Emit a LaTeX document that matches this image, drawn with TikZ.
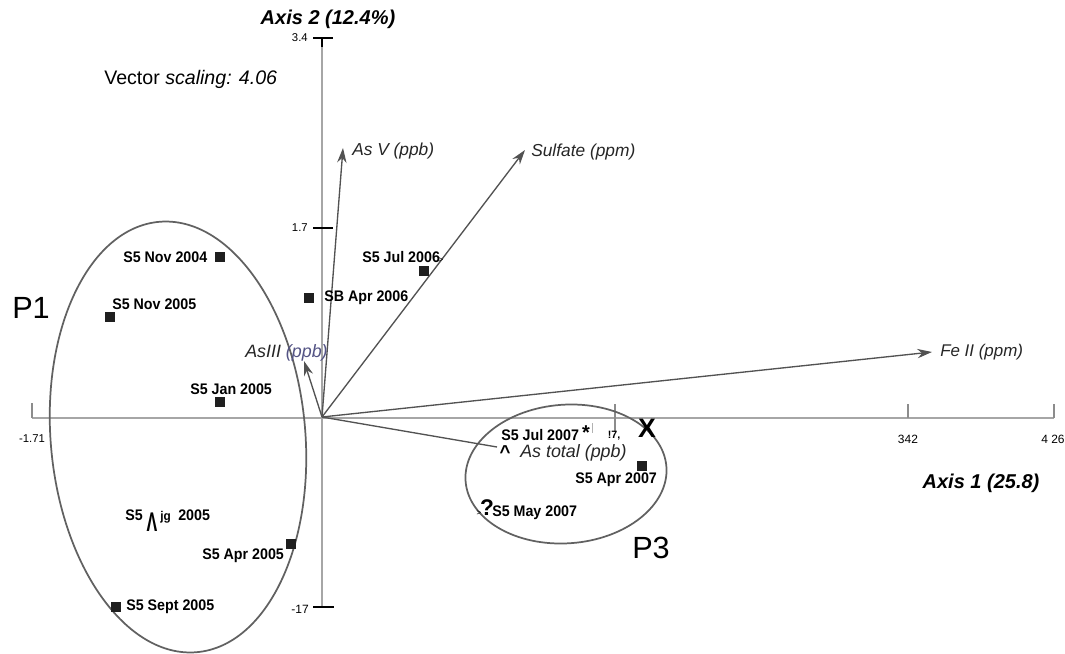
\documentclass[tikz,border=0pt]{standalone}
\usepackage{fontspec}
\setmainfont{Liberation Sans}
\newfontfamily\narrowsans[FakeStretch=0.93]{Liberation Sans}
\usepackage{graphicx}
\usetikzlibrary{arrows.meta}
\begin{document}
\begin{tikzpicture}[x=0.75pt,y=-0.75pt,
  axisline/.style={draw=black!35, line width=1.1pt},
  tickmark/.style={draw=black!45, line width=0.9pt},
  bartick/.style={draw=black, line width=1.1pt},
  vec/.style={draw=black!68, line width=1pt, -{Stealth[length=11pt,width=7pt]}},
  vecplain/.style={draw=black!68, line width=1pt},
  grp/.style={draw=black!62, line width=1.3pt},
  sample/.style={fill=black!88, minimum size=6.8pt, inner sep=0pt},
  lab/.style={font=\narrowsans\fontsize{11.5}{13}\selectfont\bfseries, anchor=west, inner sep=0pt},
  vlab/.style={font=\fontsize{13}{15}\selectfont\itshape, anchor=west, inner sep=0pt, text=black!85},
  ticklab/.style={font=\fontsize{8.5}{9}\selectfont, inner sep=0pt},
  grplab/.style={font=\fontsize{23}{26}\selectfont, anchor=west, inner sep=0pt},
  axtitle/.style={font=\fontsize{15}{17}\selectfont\bfseries\itshape, inner sep=0pt},
]
\useasboundingbox (0,0) rectangle (1065,654);
\fill[white] (0,0) rectangle (1065,654);

% ---------- axes ----------
\coordinate (ytop) at (322,38);
\coordinate (ybot) at (322,607);
\coordinate (xleft) at (32,418);
\coordinate (xright) at (1054,418);
\draw[axisline] (ytop) -- (ybot);
\draw[axisline] (xleft) -- (xright);

% vertical-axis ticks
\coordinate (t34a) at (313,38); \coordinate (t34b) at (333,38); \coordinate (t34c) at (322,47);
\draw[bartick] (t34a) -- (t34b);
\draw[bartick] (ytop) -- (t34c);
\coordinate (t17a) at (313,228); \coordinate (t17b) at (333,228);
\draw[bartick, line width=0.9pt] (t17a) -- (t17b);
\coordinate (tm17a) at (313,607); \coordinate (tm17b) at (334,607);
\draw[bartick, line width=2pt] (tm17a) -- (tm17b);
\node[ticklab, anchor=east] (l34) at (308,38) {3.4};
\node[ticklab, anchor=east] (l17) at (308,228) {1.7};
\node[ticklab, anchor=east, font=\fontsize{9}{10}\selectfont] (lm17) at (309,609) {-17};

% horizontal-axis ticks
\coordinate (hx1a) at (32,403);  \coordinate (hx1b) at (32,418);
\coordinate (hx2a) at (615,404); \coordinate (hx2b) at (615,432);
\coordinate (hx3a) at (908,404); \coordinate (hx3b) at (908,418);
\coordinate (hx4a) at (1054,404); \coordinate (hx4b) at (1054,418);
\draw[tickmark] (hx1a) -- (hx1b);
\draw[tickmark] (hx2a) -- (hx2b);
\draw[tickmark] (hx3a) -- (hx3b);
\draw[tickmark] (hx4a) -- (hx4b);
\node[ticklab, font=\fontsize{8.5}{9}\selectfont] (lm171) at (32,439) {-1.71};
\node[ticklab, font=\fontsize{9}{10}\selectfont] (l342) at (908,439) {342};
\node[ticklab, font=\fontsize{9}{10}\selectfont] (l426) at (1053,439) {4 26};
\node[ticklab, font=\fontsize{8}{9}\selectfont\bfseries] (l17x) at (614,436) {!7,};

% axis titles and note
\node[axtitle] (ax2) at (328,19) {Axis 2 (12.4\%)};
\node[axtitle] (ax1) at (981,483) {Axis 1 (25.8)};
\node[anchor=west, inner sep=0pt, font=\fontsize{14.7}{16}\selectfont] (vs) at (104,79) {Vector \textit{scaling: 4.06}};

% ---------- group ellipses ----------
\draw[grp, rotate around={5:(178,437)}] (178,437) ellipse [x radius=95.5pt, y radius=162pt];
\draw[grp, rotate around={4:(566,474)}] (566,474) ellipse [x radius=75.5pt, y radius=52pt];
\node[grplab] (P1) at (12,308) {P1};
\node[grplab] (P3) at (632,548) {P3};

% ---------- vectors ----------
\coordinate (O) at (322,417);
\coordinate (tAsV) at (343,148);
\coordinate (tSulf) at (525,150);
\coordinate (tFe) at (932,352);
\coordinate (tAsIII) at (304,361);
\coordinate (tAsTot) at (497,447);
\draw[vec] (O) -- (tAsV);
\draw[vec] (O) -- (tSulf);
\draw[vec] (O) -- (tFe);
\draw[vec] (O) -- (tAsIII);
\draw[vecplain] (O) -- (tAsTot);
\node[vlab] (lAsV) at (352,151) {As V (ppb)};
\node[vlab] (lSulf) at (531,152) {Sulfate (ppm)};
\node[vlab, font=\fontsize{12.7}{15}\selectfont\itshape] (lFe) at (940,352) {Fe II (ppm)};
\node[vlab, font=\fontsize{13.4}{15}\selectfont\itshape] (lAsIII) at (245,353) {AsIII \textcolor{black!45!blue!35!gray}{(ppb)}};
\node[vlab, font=\fontsize{13.4}{15}\selectfont\itshape] (lAsTot) at (520,453) {As total (ppb)};
\node[inner sep=0pt, font=\fontsize{14}{14}\selectfont\bfseries] (caret) at (505,452) {\textasciicircum};

% ---------- samples ----------
\node[sample] (sNov04) at (220,257) {};
\node[lab] (lNov04) at (123,257) {S5 Nov 2004};
\node[sample] (sNov05) at (110,317) {};
\node[lab] (lNov05) at (112,304) {S5 Nov 2005};
\node[sample] (sJul06) at (424,271) {};
\node[lab] (lJul06) at (362,257) {S5 Jul 2006};
\node[inner sep=0pt, font=\fontsize{6}{6}\selectfont] (gtJul06) at (441,260) {>};
\node[sample] (sApr06) at (309,298) {};
\node[lab] (lApr06) at (324,298) {SB Apr 2006};
\node[sample] (sJan05) at (220,402) {};
\node[lab] (lJan05) at (190,389) {S5 Jan 2005};
\node[lab] (lAug05a) at (125,515) {S5};
\node[inner sep=0pt] (lAug05b) at (152,522) {\scalebox{0.8}[1.35]{\fontsize{15}{15}\selectfont\bfseries Λ}};
\node[lab, font=\narrowsans\fontsize{9.5}{10}\selectfont\bfseries] (lAug05c) at (160,517) {jg};
\node[lab] (lAug05d) at (178,515) {2005};
\node[sample] (sApr05) at (291,544) {};
\node[lab] (lApr05) at (202,556) {S5 Apr 2005};
\node[sample] (sSep05) at (116,607) {};
\node[lab] (lSep05) at (126,607) {S5 Sept 2005};

\node[lab] (lJul07) at (501,435) {S5 Jul 2007};
\node[inner sep=0pt, font=\fontsize{15}{15}\selectfont\bfseries] (star) at (586,433) {*};
\coordinate (bar1) at (592,423); \coordinate (bar2) at (592,433);
\draw[draw=black!30, line width=0.6pt] (bar1) -- (bar2);
\node[inner sep=0pt, font=\fontsize{20}{20}\selectfont\bfseries] (bigX) at (647,428) {X};
\node[sample] (sApr07) at (642,466) {};
\node[lab] (lApr07) at (575,480) {S5 Apr 2007};
\node[inner sep=0pt, font=\fontsize{17}{17}\selectfont\bfseries] (qm) at (487,508) {?};
\node[inner sep=0pt, font=\fontsize{6}{6}\selectfont] (gtMay07) at (479,513) {>};
\node[lab] (lMay07) at (492,513) {S5 May 2007};
\end{tikzpicture}
\end{document}
